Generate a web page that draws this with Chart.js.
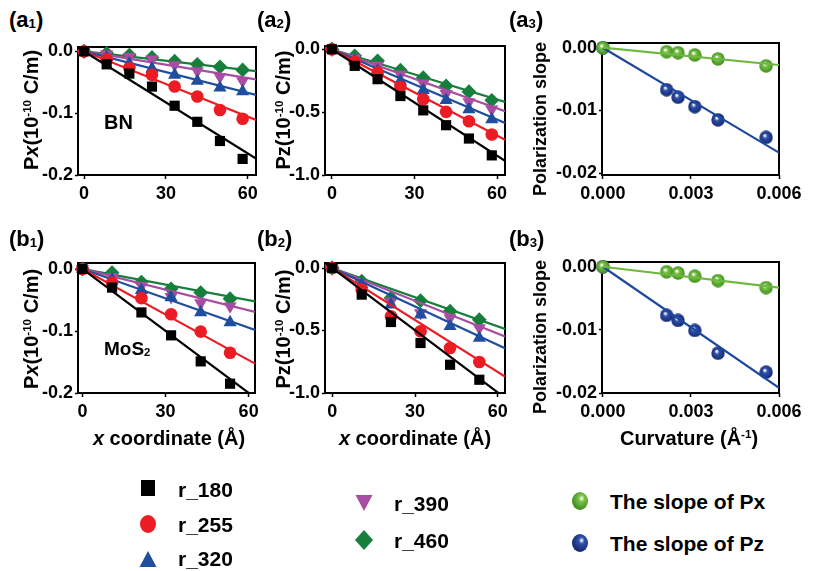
<!DOCTYPE html>
<html><head><meta charset="utf-8">
<script src="https://cdn.jsdelivr.net/npm/chart.js@4/dist/chart.umd.min.js"></script>
<style>
body{margin:0;width:814px;height:571px;background:#fff;position:relative;overflow:hidden;font-family:"Liberation Sans",Arial,Helvetica,sans-serif;font-weight:bold;color:#000;}
canvas.p{position:absolute;}
.t{position:absolute;white-space:nowrap;line-height:1;}
.c{transform:translate(-50%,-50%);}
.rot{transform:translate(-50%,-50%) rotate(-90deg);}
.lg{transform:translateY(-50%);font-size:21px;}
sup{font-size:0.58em;vertical-align:0.6em;line-height:0;}
sub{font-size:0.6em;vertical-align:-0.1em;line-height:0;}
svg{position:absolute;overflow:visible;}
</style></head><body>
<script>
// ---------------- DATA ----------------
const seriesNames = ['r_180','r_255','r_320','r_390','r_460'];
const xTicksCoord = [0, 30, 60];
const xTicksCurv = [0, 0.003, 0.006];
const yTicksPx = [0, -0.1, -0.2];
const yTicksPz = [0, -0.5, -1.0];
const yTicksSlope = [0, -0.01, -0.02];

// (a1)/(a2) BN
const xBN = [0, 8.3, 16.6, 24.9, 33.2, 41.5, 49.8, 58.1];
const pxBN_180 = [0, -0.021, -0.036, -0.057, -0.088, -0.114, -0.145, -0.174];
const pxBN_255 = [0, -0.013, -0.027, -0.038, -0.057, -0.073, -0.095, -0.109];
const pxBN_320 = [0, -0.010, -0.020, -0.028, -0.038, -0.048, -0.059, -0.065];
const pxBN_390 = [0, -0.005, -0.009, -0.013, -0.022, -0.032, -0.041, -0.048];
const pxBN_460 = [0, -0.003, -0.006, -0.010, -0.016, -0.021, -0.025, -0.030];
const pxBN_fitSlope = [-0.00275, -0.00176, -0.00112, -0.00072, -0.00051];

const pzBN_180 = [0, -0.132, -0.238, -0.372, -0.486, -0.604, -0.710, -0.844];
const pzBN_255 = [0, -0.100, -0.186, -0.300, -0.398, -0.498, -0.572, -0.678];
const pzBN_320 = [0, -0.090, -0.172, -0.252, -0.326, -0.406, -0.478, -0.558];
const pzBN_390 = [0, -0.070, -0.130, -0.200, -0.270, -0.354, -0.420, -0.478];
const pzBN_460 = [0, -0.052, -0.092, -0.166, -0.226, -0.292, -0.338, -0.406];
const pzBN_fitSlope = [-0.0141, -0.01143, -0.00933, -0.00783, -0.00665];

// (b1)/(b2) MoS2
const xMoS2 = [0, 10.7, 21.3, 32, 42.7, 53.3];
const pxMo_180 = [0, -0.030, -0.070, -0.107, -0.149, -0.185];
const pxMo_255 = [0, -0.022, -0.047, -0.073, -0.101, -0.135];
const pxMo_320 = [0, -0.017, -0.034, -0.046, -0.070, -0.086];
const pxMo_390 = [0, -0.013, -0.027, -0.045, -0.055, -0.060];
const pxMo_460 = [0, -0.006, -0.021, -0.032, -0.038, -0.048];
const pxMo_fitSlope = [-0.00333, -0.00245, -0.00158, -0.00111, -0.00084];

const pzMo_180 = [0, -0.213, -0.432, -0.600, -0.774, -0.894];
const pzMo_255 = [0, -0.173, -0.386, -0.506, -0.640, -0.752];
const pzMo_320 = [0, -0.130, -0.293, -0.373, -0.466, -0.560];
const pzMo_390 = [0, -0.133, -0.266, -0.360, -0.400, -0.480];
const pzMo_460 = [0, -0.106, -0.240, -0.261, -0.346, -0.414];
const pzMo_fitSlope = [-0.0166, -0.01386, -0.01024, -0.00874, -0.0078];

// (a3)/(b3) curvature
const curvature = [0, 0.00217, 0.00256, 0.00313, 0.00392, 0.00556];
const slopePxBN = [0, -0.00064, -0.0008, -0.00116, -0.0018, -0.0029];
const slopePzBN = [0, -0.0067, -0.0079, -0.0094, -0.0115, -0.0143];
const slopeFitBN = [-0.46, -2.79];
const slopePxMo = [0, -0.0008, -0.0010, -0.0015, -0.0022, -0.0033];
const slopePzMo = [0, -0.0077, -0.0085, -0.0101, -0.0137, -0.0167];
const slopeFitMo = [-0.55, -3.2];

// ---------------- STYLE ----------------
const FONT = '"Liberation Sans", Arial, Helvetica, sans-serif';
const MK = [
  {style:'rect', r:7.2, color:'#000000'},
  {style:'circle', r:6.3, color:'#ec1c24'},
  {style:'triangle', r:7.6, color:'#1f4e9f'},
  {style:'triangle', r:7.6, rot:180, color:'#a84da2'},
  {style:'rectRot', r:7.4, color:'#167f3b'}
];
function sphere(base, dark, size){
  const c=document.createElement('canvas'); c.width=c.height=size;
  const g=c.getContext('2d'); const r=size/2;
  const grad=g.createRadialGradient(r*0.8, r*0.72, r*0.08, r, r, r);
  grad.addColorStop(0,'#ffffff'); grad.addColorStop(0.28, base); grad.addColorStop(1, dark);
  g.fillStyle=grad; g.beginPath(); g.arc(r,r,r-0.3,0,Math.PI*2); g.fill();
  return c;
}
const SPH = [
  {img: sphere('#78c245','#3f8c1f',14), line:'#6fb83f'},
  {img: sphere('#2f50aa','#13286f',14), line:'#1e47a0'}
];

const boxPlugin={id:'box', beforeDatasetsDraw(c){const a=c.chartArea,x=c.ctx;x.save();x.strokeStyle='#000';x.lineWidth=2;x.strokeRect(a.left,a.top,a.right-a.left,a.bottom-a.top);x.restore();}};

function lineDs(slope, xmin, xmax, color){
  return {data:[{x:xmin,y:slope*xmin},{x:xmax,y:slope*xmax}], showLine:true, pointRadius:0, borderColor:color, borderWidth:2.2};
}
function rDatasets(xs, ys, slopes, xmin, xmax){
  const ds=[];
  ys.forEach((arr,i)=>{
    ds.push(lineDs(slopes[i], xmin, xmax, MK[i].color));
    ds.push({label:seriesNames[i], data:xs.map((x,j)=>({x, y:arr[j]})), pointStyle:MK[i].style, pointRadius:MK[i].r,
      rotation:MK[i].rot||0, backgroundColor:MK[i].color, borderColor:MK[i].color, borderWidth:0, clip:false});
  });
  return ds;
}
function sDatasets(xs, px, pz, slopes, xmin, xmax){
  const ds=[];
  [px,pz].forEach((arr,i)=>{
    ds.push({data:[{x:0,y:0},{x:xmax,y:slopes[i]*xmax}], showLine:true, pointRadius:0, borderColor:SPH[i].line, borderWidth:2.2});
  });
  [px,pz].forEach((arr,i)=>{
    ds.push({label:i?'The slope of Pz':'The slope of Px', data:xs.map((x,j)=>({x,y:arr[j]})), pointStyle:SPH[i].img, pointRadius:7, clip:false});
  });
  return ds;
}

function makePanel(cfg){
  const PADL=64, PADT=14, PADR=34, PADB=34;
  const W=cfg.box.r-cfg.box.l+PADL+PADR, H=cfg.box.b-cfg.box.t+PADT+PADB;
  const cv=document.createElement('canvas'); cv.className='p';
  cv.width=W; cv.height=H; cv.style.width=W+'px'; cv.style.height=H+'px';
  cv.style.left=(cfg.box.l-PADL)+'px'; cv.style.top=(cfg.box.t-PADT)+'px';
  document.body.appendChild(cv);
  const tickFont={family:FONT, size:18, weight:'bold'};
  new Chart(cv,{type:'scatter', data:{datasets:cfg.datasets},
    options:{animation:false, responsive:false, maintainAspectRatio:false, events:[],
      layout:{padding:{top:PADT,right:PADR,left:0,bottom:0}},
      plugins:{legend:{display:false}, tooltip:{enabled:false}},
      scales:{
        x:{type:'linear', min:cfg.x[0], max:cfg.x[1],
          afterBuildTicks(s){s.ticks=cfg.xt.map(v=>({value:v}));}, afterFit(s){s.height=PADB;},
          grid:{drawOnChartArea:false, drawTicks:true, tickLength:4, tickColor:'#000', tickWidth:1.5},
          border:{display:false},
          ticks:{color:'#000', font:tickFont, padding:4, maxRotation:0, autoSkip:false, callback:v=>Number(v).toFixed(cfg.xd)}},
        y:{type:'linear', min:cfg.y[0], max:cfg.y[1],
          afterBuildTicks(s){s.ticks=cfg.yt.map(v=>({value:v}));}, afterFit(s){s.width=PADL;},
          grid:{drawOnChartArea:false, drawTicks:true, tickLength:3, tickColor:'#000', tickWidth:1.5},
          border:{display:false},
          ticks:{color:'#000', font:tickFont, padding:2, autoSkip:false, callback:v=>Number(v).toFixed(cfg.yd)}}
      }},
    plugins:[boxPlugin]});
}

const A1={box:{l:78,t:47,r:256,b:175}, x:[-2.2,63], xt:xTicksCoord, xd:0, y:[-0.2,0.007], yt:yTicksPx, yd:1};
A1.datasets=rDatasets(xBN,[pxBN_180,pxBN_255,pxBN_320,pxBN_390,pxBN_460],pxBN_fitSlope,A1.x[0],A1.x[1]);
const A2={box:{l:325,t:46,r:505,b:175}, x:[-2.5,62.9], xt:xTicksCoord, xd:0, y:[-1.0,0.026], yt:yTicksPz, yd:1};
A2.datasets=rDatasets(xBN,[pzBN_180,pzBN_255,pzBN_320,pzBN_390,pzBN_460],pzBN_fitSlope,A2.x[0],A2.x[1]);
const A3={box:{l:602,t:43,r:779,b:175}, x:[-0.00003,0.006], xt:xTicksCurv, xd:3, y:[-0.0203,0.00075], yt:yTicksSlope, yd:2};
A3.datasets=sDatasets(curvature,slopePxBN,slopePzBN,slopeFitBN,A3.x[0],A3.x[1]);
const B1={box:{l:78,t:263,r:255,b:393}, x:[-1.6,62.3], xt:xTicksCoord, xd:0, y:[-0.2,0.0097], yt:yTicksPx, yd:1};
B1.datasets=rDatasets(xMoS2,[pxMo_180,pxMo_255,pxMo_320,pxMo_390,pxMo_460],pxMo_fitSlope,B1.x[0],B1.x[1]);
const B2={box:{l:325,t:263,r:505,b:393}, x:[-2.6,62.6], xt:xTicksCoord, xd:0, y:[-1.0,0.04], yt:yTicksPz, yd:1};
B2.datasets=rDatasets(xMoS2,[pzMo_180,pzMo_255,pzMo_320,pzMo_390,pzMo_460],pzMo_fitSlope,B2.x[0],B2.x[1]);
const B3={box:{l:602,t:262,r:779,b:393}, x:[-0.00003,0.006], xt:xTicksCurv, xd:3, y:[-0.02,0.00075], yt:yTicksSlope, yd:2};
B3.datasets=sDatasets(curvature,slopePxMo,slopePzMo,slopeFitMo,B3.x[0],B3.x[1]);
[A1,A2,A3,B1,B2,B3].forEach(makePanel);
</script>

<!-- panel labels -->
<div class="t" style="left:9px;top:9px;font-size:22px">(a<sub>1</sub>)</div>
<div class="t" style="left:257px;top:9px;font-size:22px">(a<sub>2</sub>)</div>
<div class="t" style="left:509px;top:9px;font-size:22px">(a<sub>3</sub>)</div>
<div class="t" style="left:9px;top:228px;font-size:22px">(b<sub>1</sub>)</div>
<div class="t" style="left:257px;top:228px;font-size:22px">(b<sub>2</sub>)</div>
<div class="t" style="left:509px;top:228px;font-size:22px">(b<sub>3</sub>)</div>

<!-- y axis titles -->
<div class="t rot" style="left:31px;top:110px;font-size:20px">P<i>x</i>(10<sup>-10</sup> C/m)</div>
<div class="t rot" style="left:283px;top:110px;font-size:20px">Pz(10<sup>-10</sup> C/m)</div>
<div class="t rot" style="left:540px;top:119px;font-size:18px">Polarization slope</div>
<div class="t rot" style="left:31px;top:329px;font-size:20px">P<i>x</i>(10<sup>-10</sup> C/m)</div>
<div class="t rot" style="left:283px;top:329px;font-size:20px">Pz(10<sup>-10</sup> C/m)</div>
<div class="t rot" style="left:540px;top:337px;font-size:18px">Polarization slope</div>

<!-- x axis titles -->
<div class="t c" style="left:169px;top:438px;font-size:20px"><i>x</i> coordinate (Å)</div>
<div class="t c" style="left:415px;top:438px;font-size:20px"><i>x</i> coordinate (Å)</div>
<div class="t c" style="left:689px;top:438px;font-size:20px">Curvature (Å<sup>-1</sup>)</div>

<!-- material labels -->
<div class="t" style="left:104px;top:112px;font-size:20px">BN</div>
<div class="t" style="left:104px;top:339px;font-size:19px">MoS<sub>2</sub></div>

<!-- legend -->
<svg width="1" height="1" style="left:0;top:0">
  <defs>
    <radialGradient id="gg" cx="0.6" cy="0.36" r="0.62"><stop offset="0" stop-color="#fff"/><stop offset="0.3" stop-color="#78c245"/><stop offset="1" stop-color="#3f8c1f"/></radialGradient>
    <radialGradient id="gb" cx="0.6" cy="0.36" r="0.62"><stop offset="0" stop-color="#fff"/><stop offset="0.3" stop-color="#2f50aa"/><stop offset="1" stop-color="#13286f"/></radialGradient>
  </defs>
  <rect x="141" y="480" width="14" height="16" fill="#000"/>
  <ellipse cx="148" cy="524" rx="8" ry="9" fill="#ec1c24"/>
  <polygon points="139.5,567 156.5,567 148,551" fill="#1f4e9f"/>
  <polygon points="355.5,495 372.5,495 364,511" fill="#a84da2"/>
  <polygon points="364,530 373,540 364,550 355,540" fill="#167f3b"/>
  <ellipse cx="580" cy="501" rx="8" ry="9" fill="url(#gg)"/>
  <ellipse cx="580" cy="543" rx="8" ry="9" fill="url(#gb)"/>
</svg>
<div class="t lg" style="left:178px;top:489px">r_180</div>
<div class="t lg" style="left:178px;top:524px">r_255</div>
<div class="t lg" style="left:178px;top:558px">r_320</div>
<div class="t lg" style="left:394px;top:503px">r_390</div>
<div class="t lg" style="left:394px;top:540px">r_460</div>
<div class="t lg" style="left:610px;top:501px">The slope of Px</div>
<div class="t lg" style="left:610px;top:543px">The slope of Pz</div>
</body></html>
